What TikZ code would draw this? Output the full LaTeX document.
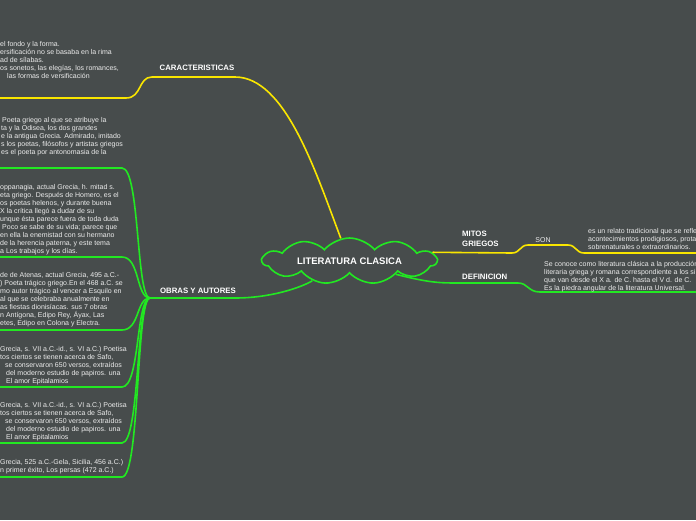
\documentclass[tikz,border=0pt]{standalone}
\usepackage{fontspec}
\setmainfont{Liberation Sans}
\usepackage{xcolor}
\usetikzlibrary{shapes.symbols}

\definecolor{mapbg}{RGB}{71,76,76}
\definecolor{mapgreen}{RGB}{34,232,34}
\definecolor{mapyellow}{RGB}{250,230,0}
\definecolor{maptext}{RGB}{236,236,236}

\begin{document}
\begin{tikzpicture}[
  x=1pt,
  y=-1pt,
  ylwline/.style={draw=mapyellow, line width=1.6pt},
  grnline/.style={draw=mapgreen, line width=1.6pt},
  topic/.style={font=\fontsize{7.8}{9.4}\selectfont\bfseries, text=white, inner sep=0pt, align=left},
  info/.style={font=\fontsize{7}{8}\selectfont, text=maptext, inner sep=0pt, align=left, anchor=north west},
  central/.style={cloud, cloud puffs=11, cloud puff arc=100, cloud ignores aspect, draw=mapgreen, line width=1.6pt,
    minimum width=174pt, minimum height=46pt, inner sep=0pt,
    font=\fontsize{9.5}{11}\selectfont\bfseries, text=white}
]
  \useasboundingbox (0,0) rectangle (696,520);
  \fill[mapbg] (0,0) rectangle (696,520);
  \clip (0,0) rectangle (696,520);

  % central idea
  \node[central] (root) at (349.5,261) {LITERATURA CLASICA};

  % branch titles
  \node[topic] (car) at (197,68) {CARACTERISTICAS};
  \node[topic] (obras) at (198,291) {OBRAS Y AUTORES};
  \node[topic, anchor=west] (mitos) at (462,239) {MITOS\\GRIEGOS};
  \node[topic, anchor=west] (defin) at (462,277) {DEFINICION};
  \node[font=\fontsize{7}{8}\selectfont, text=maptext, inner sep=0pt] (son) at (543,240) {SON};

  \coordinate (carend) at (0,98);
  \coordinate (obrasjoin) at (150,298);
  \coordinate (mitosend) at (696,253);
  \coordinate (definend) at (696,292);

  % yellow branches
  \draw[ylwline] (root.111) .. controls (315,170) and (285,77) .. (235,77)
    -- (152,77) .. controls (138,77) and (142,98) .. (126,98) -- (carend);
  \draw[ylwline] (root.6) -- (512,253) .. controls (520,253) and (520,245) .. (528,245)
    -- (568,245) .. controls (576,245) and (576,253) .. (584,253) -- (mitosend);

  % green branches
  \draw[grnline] (obrasjoin) -- (235,298) .. controls (270,298) and (300,288) .. (root.208);
  \draw[grnline] (root.-16) .. controls (430,283) and (440,283) .. (460,283)
    -- (518,283) .. controls (528,283) and (528,292) .. (540,292) -- (definend);

  \foreach \yy/\nm in {168/homero, 257/hesiodo, 330/sofocles, 387/safoa, 443/safob, 477/esquilo} {
    \coordinate (\nm end) at (0,\yy);
    \draw[grnline] (obrasjoin) .. controls (136,298) and (140,\yy) .. (122,\yy) -- (\nm end);
  }

  % texts
  \node[info] (carinfo) at (0,41.7) {el fondo y la forma.\\
    ersificación no se basaba en la rima\\
    ad de sílabas.\\
    os sonetos, las elegías, los romances,\\
    \hspace*{7pt}las formas de versificación};

  \node[info] (homeroinfo) at (1,117.3) {\hspace*{1pt}Poeta griego al que se atribuye la\\
    ta y la Odisea, los dos grandes\\
    e la antigua Grecia. Admirado, imitado\\
    s los poetas, filósofos y artistas griegos\\
    es el poeta por antonomasia de la};

  \node[info] (hesiodoinfo) at (0,184.3) {oppanagia, actual Grecia, h. mitad s.\\
    eta griego. Después de Homero, es el\\
    os poetas helenos, y durante buena\\
    X la crítica llegó a dudar de su\\
    unque ésta parece fuera de toda duda\\
    \hspace*{2pt}Poco se sabe de su vida; parece que\\
    en ella la enemistad con su hermano\\
    de la herencia paterna, y este tema\\
    a Los trabajos y los días.};

  \node[info] (sofoclesinfo) at (0,272) {de de Atenas, actual Grecia, 495 a.C.-\\
    ) Poeta trágico griego.En el 468 a.C. se\\
    mo autor trágico al vencer a Esquilo en\\
    al que se celebraba anualmente en\\
    as fiestas dionisíacas. sus 7 obras\\
    n Antígona, Edipo Rey, Áyax, Las\\
    etes, Edipo en Colona y Electra.};

  \node[info] (safoainfo) at (0,346) {Grecia, s. VII a.C.-id., s. VI a.C.) Poetisa\\
    tos ciertos se tienen acerca de Safo,\\
    \hspace*{5pt}se conservaron 650 versos, extraídos\\
    \hspace*{6pt}del moderno estudio de papiros. una\\
    \hspace*{6pt}El amor Epitalamios};

  \node[info] (safobinfo) at (0,402.7) {Grecia, s. VII a.C.-id., s. VI a.C.) Poetisa\\
    tos ciertos se tienen acerca de Safo,\\
    \hspace*{5pt}se conservaron 650 versos, extraídos\\
    \hspace*{6pt}del moderno estudio de papiros. una\\
    \hspace*{6pt}El amor Epitalamios};

  \node[info] (esquiloinfo) at (0,459.3) {Grecia, 525 a.C.-Gela, Sicilia, 456 a.C.)\\
    n primer éxito, Los persas (472 a.C.)};

  \node[info] (mitosinfo) at (588,228.7) {es un relato tradicional que se refle\\
    acontecimientos prodigiosos, prota\\
    sobrenaturales o extraordinarios.};

  \node[info] (defininfo) at (544,261.3) {Se conoce como literatura clásica a la producción\\
    literaria griega y romana correspondiente a los si\\
    que van desde el X a. de C. hasta el V d. de C.\\
    Es la piedra angular de la literatura Universal.};
\end{tikzpicture}
\end{document}
